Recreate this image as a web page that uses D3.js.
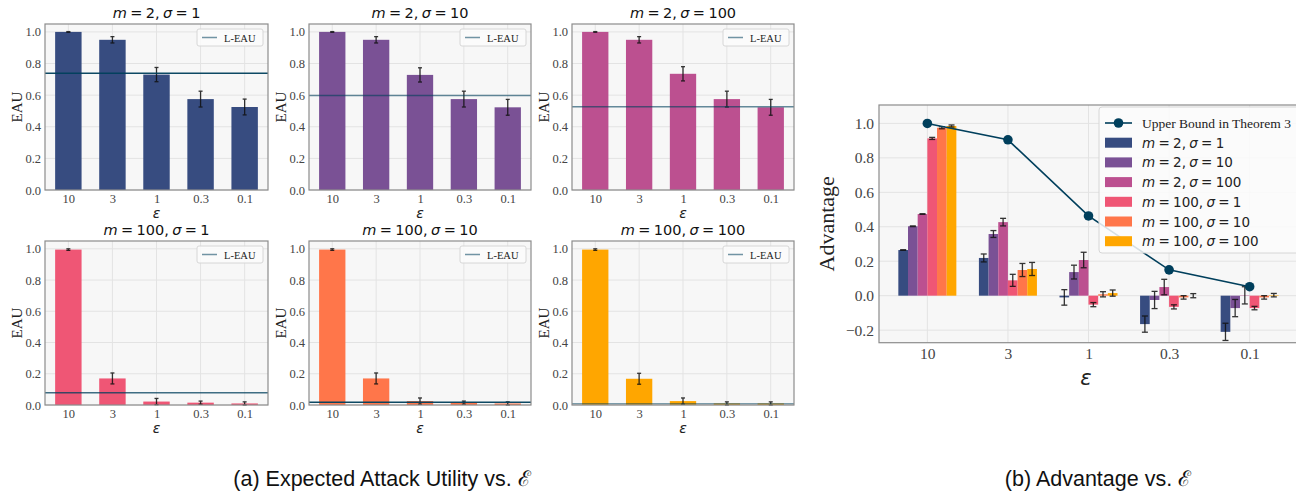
<!DOCTYPE html>
<html>
<head>
<meta charset="utf-8">
<script src="https://cdn.jsdelivr.net/npm/d3@7"></script>
<style>
  body { margin: 0; background: #fff; }
  svg { display: block; }
  .serif { font-family: "Liberation Serif", "Times New Roman", serif; }
  .math { font-family: "DejaVu Sans", sans-serif; }
</style>
</head>
<body>
<div id="container"></div>
<script>
// categories (epsilon)
var epsLabels = ["10", "3", "1", "0.3", "0.1"];

// panel settings (m, sigma)
var mVals = [2, 2, 2, 100, 100, 100];
var sigmaVals = [1, 10, 100, 1, 10, 100];

// expected attack utility, one array per panel
var eau_m2_s1 = [1.0, 0.95, 0.73, 0.575, 0.525];
var eau_m2_s10 = [1.0, 0.95, 0.728, 0.575, 0.523];
var eau_m2_s100 = [1.0, 0.95, 0.735, 0.575, 0.523];
var eau_m100_s1 = [0.995, 0.17, 0.022, 0.015, 0.01];
var eau_m100_s10 = [0.995, 0.17, 0.025, 0.015, 0.01];
var eau_m100_s100 = [0.995, 0.168, 0.025, 0.01, 0.01];

var eauErr_m2 = [0.002, 0.02, 0.045, 0.05, 0.05];
var eauErr_m100 = [0.005, 0.035, 0.02, 0.01, 0.01];

// lower-bound EAU per panel
var leau = [0.739, 0.597, 0.527, 0.079, 0.017, 0.008];

// advantage per series
var adv_m2_s1 = [0.265, 0.219, -0.01, -0.165, -0.21];
var adv_m2_s10 = [0.403, 0.358, 0.137, -0.025, -0.072];
var adv_m2_s100 = [0.474, 0.427, 0.207, 0.05, 0.002];
var adv_m100_s1 = [0.913, 0.089, -0.052, -0.065, -0.072];
var adv_m100_s10 = [0.975, 0.149, 0.008, -0.01, -0.01];
var adv_m100_s100 = [0.985, 0.155, 0.015, 0.0, 0.003];

var advErr_m2_s1 = [0.002, 0.023, 0.045, 0.047, 0.05];
var advErr_m2_s10 = [0.002, 0.02, 0.04, 0.05, 0.05];
var advErr_m2_s100 = [0.002, 0.022, 0.045, 0.045, 0.05];
var advErr_m100_s1 = [0.006, 0.035, 0.012, 0.012, 0.01];
var advErr_m100_s10 = [0.006, 0.038, 0.015, 0.01, 0.01];
var advErr_m100_s100 = [0.006, 0.038, 0.018, 0.012, 0.01];

var upperBound = [1.0, 0.905, 0.463, 0.15, 0.052];

var eauTicks = [0, 0.2, 0.4, 0.6, 0.8, 1.0];
var advTicks = [-0.2, 0, 0.2, 0.4, 0.6, 0.8, 1.0];

// styling
var colors = ["#374c80", "#7a5195", "#bc5090", "#ef5675", "#ff764a", "#ffa600"];
var boundColor = "#003f5c";
var leauOpacity = [0.95, 0.6, 0.6, 0.75, 0.95, 0.5];

var eauSeries = [eau_m2_s1, eau_m2_s10, eau_m2_s100, eau_m100_s1, eau_m100_s10, eau_m100_s100];
var eauErrs = [eauErr_m2, eauErr_m2, eauErr_m2, eauErr_m100, eauErr_m100, eauErr_m100];
var advSeries = [adv_m2_s1, adv_m2_s10, adv_m2_s100, adv_m100_s1, adv_m100_s10, adv_m100_s100];
var advErrs = [advErr_m2_s1, advErr_m2_s10, advErr_m2_s100, advErr_m100_s1, advErr_m100_s10, advErr_m100_s100];

var svg = d3.select("#container").append("svg")
  .attr("width", 1296)
  .attr("height", 491);

// writes "m = 2, σ = 1" with italic symbols
function mathLabel(sel, m, s) {
  sel.append("tspan").attr("font-style", "italic").text("m");
  sel.append("tspan").text(" = " + m + ", ");
  sel.append("tspan").attr("font-style", "italic").text("σ");
  sel.append("tspan").text(" = " + s);
}

function drawEAU(idx, box) {
  var g = svg.append("g");
  var x = d3.scaleLinear().domain([-0.53, 4.53]).range([box.x0, box.x1]);
  var y = d3.scaleLinear().domain([0, 1.05]).range([box.y1, box.y0]);
  var vals = eauSeries[idx], errs = eauErrs[idx];

  g.append("rect")
    .attr("x", box.x0).attr("y", box.y0)
    .attr("width", box.x1 - box.x0).attr("height", box.y1 - box.y0)
    .attr("fill", "#f7f7f7");

  g.selectAll(".gy").data(eauTicks).enter().append("line")
    .attr("x1", box.x0).attr("x2", box.x1)
    .attr("y1", d => y(d)).attr("y2", d => y(d))
    .attr("stroke", "#e3e3e3").attr("stroke-width", 1);
  g.selectAll(".gx").data(epsLabels).enter().append("line")
    .attr("x1", (d, i) => x(i)).attr("x2", (d, i) => x(i))
    .attr("y1", box.y0).attr("y2", box.y1)
    .attr("stroke", "#e3e3e3").attr("stroke-width", 1);

  g.selectAll(".bar").data(vals).enter().append("rect")
    .attr("x", (d, i) => x(i - 0.3))
    .attr("width", x(0.6) - x(0))
    .attr("y", d => y(d))
    .attr("height", d => y(0) - y(d))
    .attr("fill", colors[idx]);

  var eb = g.selectAll(".err").data(vals).enter().append("g")
    .attr("stroke", "#111").attr("stroke-width", 1.3).attr("opacity", 0.85);
  eb.append("line")
    .attr("x1", (d, i) => x(i)).attr("x2", (d, i) => x(i))
    .attr("y1", (d, i) => y(d - errs[i])).attr("y2", (d, i) => y(d + errs[i]));
  eb.append("line")
    .attr("x1", (d, i) => x(i) - 2).attr("x2", (d, i) => x(i) + 2)
    .attr("y1", (d, i) => y(d - errs[i])).attr("y2", (d, i) => y(d - errs[i]));
  eb.append("line")
    .attr("x1", (d, i) => x(i) - 2).attr("x2", (d, i) => x(i) + 2)
    .attr("y1", (d, i) => y(d + errs[i])).attr("y2", (d, i) => y(d + errs[i]));

  g.append("line")
    .attr("x1", box.x0).attr("x2", box.x1)
    .attr("y1", y(leau[idx])).attr("y2", y(leau[idx]))
    .attr("stroke", boundColor).attr("stroke-width", 1.5)
    .attr("stroke-opacity", leauOpacity[idx]);

  g.append("rect")
    .attr("x", box.x0).attr("y", box.y0)
    .attr("width", box.x1 - box.x0).attr("height", box.y1 - box.y0)
    .attr("fill", "none").attr("stroke", "#8c8c8c").attr("stroke-width", 1.2);

  // legend
  var lx = box.x1 - 71, ly = box.y0 + 5;
  g.append("rect")
    .attr("x", lx).attr("y", ly).attr("width", 66).attr("height", 17)
    .attr("rx", 2).attr("fill", "#fbfbfb").attr("fill-opacity", 0.85)
    .attr("stroke", "#d6d6d6");
  g.append("line")
    .attr("x1", lx + 5).attr("x2", lx + 20)
    .attr("y1", ly + 8.5).attr("y2", ly + 8.5)
    .attr("stroke", boundColor).attr("stroke-width", 1.5).attr("stroke-opacity", 0.55);
  g.append("text").attr("class", "serif")
    .attr("x", lx + 27).attr("y", ly + 12.5)
    .attr("font-size", 10.5).attr("fill", "#222").text("L-EAU");

  // axes (tick labels only)
  var yAxis = d3.axisLeft(y).tickValues(eauTicks).tickFormat(d3.format(".1f")).tickSize(0).tickPadding(4);
  var ya = g.append("g").attr("transform", "translate(" + box.x0 + ",0)").call(yAxis);
  ya.select(".domain").remove();
  ya.selectAll("text").attr("class", "serif").attr("font-size", 12.5).attr("fill", "#444");

  var xAxis = d3.axisBottom(x).tickValues(d3.range(5)).tickFormat(i => epsLabels[i]).tickSize(0).tickPadding(4);
  var xa = g.append("g").attr("transform", "translate(0," + box.y1 + ")").call(xAxis);
  xa.select(".domain").remove();
  xa.selectAll("text").attr("class", "serif").attr("font-size", 12.5).attr("fill", "#444");

  g.append("text").attr("class", "math")
    .attr("x", (box.x0 + box.x1) / 2).attr("y", box.y1 + 28)
    .attr("text-anchor", "middle").attr("font-size", 14).attr("font-style", "italic")
    .attr("fill", "#222").text("ε");

  g.append("text").attr("class", "serif")
    .attr("transform", "translate(" + (box.x0 - 23) + "," + ((box.y0 + box.y1) / 2) + ") rotate(-90)")
    .attr("text-anchor", "middle").attr("font-size", 15).attr("fill", "#222").text("EAU");

  var t = g.append("text").attr("class", "math")
    .attr("x", (box.x0 + box.x1) / 2).attr("y", box.y0 - 6)
    .attr("text-anchor", "middle").attr("font-size", 14.5).attr("word-spacing", -1.2)
    .attr("fill", "#111");
  mathLabel(t, mVals[idx], sigmaVals[idx]);
}

var cols = [[45, 268], [309, 531], [572, 794]];
var rows = [[24, 190], [241, 405]];
for (var k = 0; k < 6; k++) {
  var c = cols[k % 3], r = rows[Math.floor(k / 3)];
  drawEAU(k, { x0: c[0], x1: c[1], y0: r[0], y1: r[1] });
}

// ---- right panel: advantage ----
(function () {
  var box = { x0: 879, x1: 1298, y0: 105, y1: 342.7 };
  var g = svg.append("g");
  var x = d3.scaleLinear().domain([-0.6, 4.6]).range([box.x0, box.x1]);
  var y = d3.scaleLinear().domain([-0.273, 1.107]).range([box.y1, box.y0]);
  var bw = 0.12;

  g.append("rect")
    .attr("x", box.x0).attr("y", box.y0)
    .attr("width", box.x1 - box.x0).attr("height", box.y1 - box.y0)
    .attr("fill", "#f7f7f7");

  g.selectAll(".gy").data(advTicks).enter().append("line")
    .attr("x1", box.x0).attr("x2", box.x1)
    .attr("y1", d => y(d)).attr("y2", d => y(d))
    .attr("stroke", "#e3e3e3");
  g.selectAll(".gx").data(epsLabels).enter().append("line")
    .attr("x1", (d, i) => x(i)).attr("x2", (d, i) => x(i))
    .attr("y1", box.y0).attr("y2", box.y1)
    .attr("stroke", "#e3e3e3");

  advSeries.forEach(function (vals, s) {
    var off = (s - 2.5) * bw;
    g.selectAll(".b" + s).data(vals).enter().append("rect")
      .attr("x", (d, i) => x(i + off - bw / 2))
      .attr("width", x(bw) - x(0))
      .attr("y", d => y(Math.max(d, 0)))
      .attr("height", d => Math.abs(y(0) - y(d)))
      .attr("fill", colors[s]);
  });
  advSeries.forEach(function (vals, s) {
    var errs = advErrs[s];
    var off = (s - 2.5) * bw;
    var eb = g.selectAll(".e" + s).data(vals).enter().append("g")
      .attr("stroke", "#111").attr("stroke-width", 1.3).attr("opacity", 0.85);
    eb.append("line")
      .attr("x1", (d, i) => x(i + off)).attr("x2", (d, i) => x(i + off))
      .attr("y1", (d, i) => y(d - errs[i])).attr("y2", (d, i) => y(d + errs[i]));
    [-1, 1].forEach(function (sg) {
      eb.append("line")
        .attr("x1", (d, i) => x(i + off) - 3).attr("x2", (d, i) => x(i + off) + 3)
        .attr("y1", (d, i) => y(d + sg * errs[i])).attr("y2", (d, i) => y(d + sg * errs[i]));
    });
  });

  var line = d3.line().x((d, i) => x(i)).y(d => y(d));
  g.append("path").datum(upperBound)
    .attr("d", line).attr("fill", "none")
    .attr("stroke", boundColor).attr("stroke-width", 1.6);
  g.selectAll(".ub").data(upperBound).enter().append("circle")
    .attr("cx", (d, i) => x(i)).attr("cy", d => y(d)).attr("r", 4.8)
    .attr("fill", boundColor);

  g.append("rect")
    .attr("x", box.x0).attr("y", box.y0)
    .attr("width", box.x1 - box.x0).attr("height", box.y1 - box.y0)
    .attr("fill", "none").attr("stroke", "#8c8c8c").attr("stroke-width", 1.2);

  // legend
  var lx = 1099, ly = 107;
  g.append("rect")
    .attr("x", lx).attr("y", ly).attr("width", 210).attr("height", 146)
    .attr("rx", 3).attr("fill", "#fbfbfb").attr("fill-opacity", 0.85)
    .attr("stroke", "#d6d6d6");
  var rowY = d => ly + 16 + d * 19.7;
  g.append("line")
    .attr("x1", lx + 6).attr("x2", lx + 33).attr("y1", rowY(0)).attr("y2", rowY(0))
    .attr("stroke", boundColor).attr("stroke-width", 1.6);
  g.append("circle").attr("cx", lx + 19.5).attr("cy", rowY(0)).attr("r", 4.8).attr("fill", boundColor);
  g.append("text").attr("class", "serif")
    .attr("x", lx + 43).attr("y", rowY(0) + 4.5)
    .attr("font-size", 13.5).attr("fill", "#222").text("Upper Bound in Theorem 3");
  colors.forEach(function (col, s) {
    g.append("rect")
      .attr("x", lx + 6).attr("y", rowY(s + 1) - 5).attr("width", 27).attr("height", 10)
      .attr("fill", col);
    var t = g.append("text").attr("class", "math")
      .attr("x", lx + 43).attr("y", rowY(s + 1) + 5)
      .attr("font-size", 13.5).attr("word-spacing", -1).attr("fill", "#222");
    mathLabel(t, mVals[s], sigmaVals[s]);
  });

  var yAxis = d3.axisLeft(y).tickValues(advTicks).tickFormat(d => d3.format(".1f")(d).replace("-", "\u2212")).tickSize(0).tickPadding(5);
  var ya = g.append("g").attr("transform", "translate(" + box.x0 + ",0)").call(yAxis);
  ya.select(".domain").remove();
  ya.selectAll("text").attr("class", "serif").attr("font-size", 15.5).attr("fill", "#444");

  var xAxis = d3.axisBottom(x).tickValues(d3.range(5)).tickFormat(i => epsLabels[i]).tickSize(0).tickPadding(5);
  var xa = g.append("g").attr("transform", "translate(0," + box.y1 + ")").call(xAxis);
  xa.select(".domain").remove();
  xa.selectAll("text").attr("class", "serif").attr("font-size", 15.5).attr("fill", "#444");

  g.append("text").attr("class", "math")
    .attr("x", 1086).attr("y", box.y1 + 42)
    .attr("text-anchor", "middle").attr("font-size", 21).attr("font-style", "italic")
    .attr("fill", "#222").text("ε");

  g.append("text").attr("class", "serif")
    .attr("transform", "translate(834," + ((box.y0 + box.y1) / 2) + ") rotate(-90)")
    .attr("text-anchor", "middle").attr("font-size", 22).attr("fill", "#222").text("Advantage");
})();

// captions
svg.append("text")
  .attr("x", 382).attr("y", 486).attr("text-anchor", "middle")
  .attr("font-family", "Liberation Sans, Arial, sans-serif").attr("font-size", 21.5).attr("fill", "#111")
  .text("(a) Expected Attack Utility vs. \u2130");
svg.append("text")
  .attr("x", 1098).attr("y", 486).attr("text-anchor", "middle")
  .attr("font-family", "Liberation Sans, Arial, sans-serif").attr("font-size", 21.5).attr("fill", "#111")
  .text("(b) Advantage vs. \u2130");
</script>
</body>
</html>
